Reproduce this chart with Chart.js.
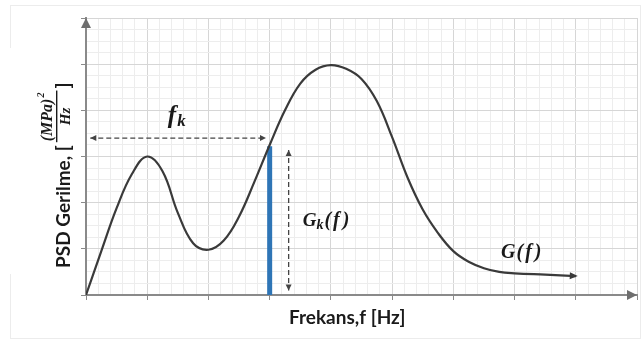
<!DOCTYPE html>
<html>
<head>
<meta charset="utf-8">
<script src="https://cdn.jsdelivr.net/npm/chart.js@4.4.1/dist/chart.umd.min.js"></script>
<style>
    html, body { margin: 0; padding: 0; background: #fff; }
    canvas { display: block; }
</style>
</head>
<body>
<canvas id="grafico" width="642" height="343"></canvas>
<script>
// espectro G(f)
const frecuencias = [0, 0.25, 0.5, 0.75, 1.0, 1.25, 1.5, 1.75, 2.0, 2.25, 2.5, 2.75, 3.0, 3.25, 3.5, 3.75, 4.0,
    4.25, 4.5, 4.75, 5.0, 5.25, 5.5, 5.75, 6.0, 6.25, 6.5, 6.75, 7.0, 7.5, 8.0]
const valoresPSD = [0, 0.95, 1.88, 2.62, 3.0, 2.68, 1.78, 1.12, 0.98, 1.18, 1.7, 2.45, 3.25, 4.0, 4.58, 4.88, 4.98,
    4.9, 4.68, 4.2, 3.42, 2.55, 1.85, 1.34, 0.95, 0.72, 0.58, 0.5, 0.47, 0.44, 0.41]

// franja k
const fk = 3.0
const gk = 3.22

// limites de los ejes
const xMax = 9
const yMax = 6

const serif = 'italic bold {s}px "Liberation Serif", "DejaVu Serif", serif'
const sans = 'bold {s}px Lato, "Open Sans", sans-serif'
const fuente = (plantilla, s) => plantilla.replace('{s}', s)

const esEntero = (v) => Math.abs(v - Math.round(v)) < 1e-6

function punta(ctx, x1, y1, x2, y2, largo, ancho) {
    const ang = Math.atan2(y2 - y1, x2 - x1)
    ctx.save()
    ctx.translate(x2, y2)
    ctx.rotate(ang)
    ctx.beginPath()
    ctx.moveTo(0, 0)
    ctx.lineTo(-largo, -ancho)
    ctx.lineTo(-largo, ancho)
    ctx.closePath()
    ctx.fill()
    ctx.restore()
}

function flechaDoble(ctx, x1, y1, x2, y2) {
    ctx.save()
    ctx.strokeStyle = '#444'
    ctx.fillStyle = '#444'
    ctx.lineWidth = 1.3
    ctx.setLineDash([5, 3])
    ctx.beginPath()
    ctx.moveTo(x1, y1)
    ctx.lineTo(x2, y2)
    ctx.stroke()
    ctx.setLineDash([])
    punta(ctx, x2, y2, x1, y1, 6, 3)
    punta(ctx, x1, y1, x2, y2, 6, 3)
    ctx.restore()
}

// texto con partes de distinta fuente (subindices)
function textoPartes(ctx, x, y, partes) {
    let cx = x
    for (const p of partes) {
        ctx.font = p.font
        ctx.fillText(p.t, cx, y + (p.dy || 0))
        cx += ctx.measureText(p.t).width + (p.gap || 0)
    }
}

const anotaciones = {
    id: 'anotaciones',
    beforeDraw(chart) {
        const ctx = chart.ctx
        ctx.save()
        ctx.fillStyle = '#fff'
        ctx.fillRect(0, 0, chart.width, chart.height)
        ctx.strokeStyle = '#ececec'
        ctx.lineWidth = 1
        ctx.strokeRect(10.5, 5.5, chart.width - 12, chart.height - 10)
        ctx.fillRect(8, 48, 5, 226)
        ctx.restore()
    },
    afterDraw(chart) {
        const ctx = chart.ctx
        const x = chart.scales.x
        const y = chart.scales.y
        const area = chart.chartArea

        ctx.save()
        // puntas de los ejes
        ctx.fillStyle = '#6e6e6e'
        punta(ctx, area.left, area.top + 20, area.left, area.top, 10, 5)
        punta(ctx, area.right - 20, area.bottom, area.right, area.bottom, 10, 5)

        // punta al final de la curva
        const n = frecuencias.length
        ctx.fillStyle = '#3a3a3a'
        punta(ctx,
            x.getPixelForValue(frecuencias[n - 2]), y.getPixelForValue(valoresPSD[n - 2]),
            x.getPixelForValue(frecuencias[n - 1]) + 2, y.getPixelForValue(valoresPSD[n - 1]),
            8, 3.5)

        // cota f_k
        const yCota = y.getPixelForValue(3.4)
        flechaDoble(ctx, x.getPixelForValue(0.07), yCota, x.getPixelForValue(fk - 0.06), yCota)

        // cota G_k(f)
        const xCota = x.getPixelForValue(fk + 0.31)
        flechaDoble(ctx, xCota, y.getPixelForValue(gk - 0.08), xCota, y.getPixelForValue(0.1))

        ctx.fillStyle = '#1a1a1a'
        ctx.textBaseline = 'alphabetic'
        ctx.textAlign = 'left'
        textoPartes(ctx, x.getPixelForValue(fk / 2) - 10, y.getPixelForValue(3.72), [
            { t: 'f', font: fuente(serif, 25), gap: 1 },
            { t: 'k', font: fuente(serif, 17), dy: 3 }
        ])
        textoPartes(ctx, x.getPixelForValue(fk + 0.54), y.getPixelForValue(1.49), [
            { t: 'G', font: fuente(serif, 19) },
            { t: 'k', font: fuente(serif, 14), dy: 3, gap: 1 },
            { t: '(', font: fuente(serif, 20), gap: 2 },
            { t: 'f', font: fuente(serif, 20), gap: 3 },
            { t: ')', font: fuente(serif, 20) }
        ])
        textoPartes(ctx, x.getPixelForValue(6.78), y.getPixelForValue(0.8), [
            { t: 'G', font: fuente(serif, 20), gap: 1 },
            { t: '(', font: fuente(serif, 20), gap: 2 },
            { t: 'f', font: fuente(serif, 20), gap: 3 },
            { t: ')', font: fuente(serif, 20) }
        ])

        // titulo eje x
        ctx.font = fuente(sans, 19)
        ctx.fillText('Frekans,f [Hz]', 289, 324)

        // titulo eje y con la fraccion (MPa)^2 / Hz
        ctx.translate(70, 268)
        ctx.rotate(-Math.PI / 2)
        ctx.font = fuente(sans, 19)
        const base = 'PSD Gerilme, ['
        ctx.fillText(base, 0, 0)
        const fx = ctx.measureText(base).width + 3
        ctx.font = fuente(serif, 16)
        const num = '(MPa)'
        const nw = ctx.measureText(num).width
        ctx.font = fuente(serif, 10)
        const sw = ctx.measureText('2').width
        const fw = nw + sw + 4
        ctx.font = fuente(serif, 16)
        ctx.fillText(num, fx + 1, -18)
        ctx.font = fuente(serif, 10)
        ctx.fillText('2', fx + 2 + nw, -26)
        ctx.fillRect(fx, -14, fw, 1.4)
        ctx.font = fuente(serif, 15)
        ctx.textAlign = 'center'
        ctx.fillText('Hz', fx + fw / 2, 0)
        ctx.textAlign = 'left'
        ctx.font = fuente(sans, 19)
        ctx.fillText(']', fx + fw + 2, 0)
        ctx.restore()
    }
}

const colorGrid = (ctx) => esEntero(ctx.tick.value) ? '#d6d6d6' : '#ededed'
const colorTick = (ctx) => esEntero(ctx.tick.value) ? '#8a8a8a' : 'rgba(0,0,0,0)'

new Chart(document.getElementById('grafico'), {
    type: 'line',
    data: {
        datasets: [
            {
                label: 'G(f)',
                data: frecuencias.map((f, i) => ({ x: f, y: valoresPSD[i] })),
                borderColor: '#3a3a3a',
                borderWidth: 2.2,
                pointRadius: 0,
                tension: 0.4,
                fill: false,
            },
            {
                label: 'Gk(f)',
                data: [{ x: fk, y: 0 }, { x: fk, y: gk }],
                borderColor: '#2e75b6',
                borderWidth: 5,
                pointRadius: 0,
                borderCapStyle: 'butt',
                fill: false,
            },
        ],
    },
    options: {
        responsive: false,
        animation: false,
        devicePixelRatio: 1,
        layout: { padding: { left: 81, right: 5, top: 18, bottom: 43 } },
        plugins: {
            legend: { display: false },
            tooltip: { enabled: false },
        },
        scales: {
            x: {
                type: 'linear',
                min: 0,
                max: xMax,
                ticks: { display: false, stepSize: 0.2 },
                grid: { color: colorGrid, tickColor: colorTick, tickLength: 5 },
                border: { color: '#8a8a8a', width: 2 },
            },
            y: {
                type: 'linear',
                min: 0,
                max: yMax,
                ticks: { display: false, stepSize: 0.25 },
                grid: { color: colorGrid, tickColor: colorTick, tickLength: 5 },
                border: { color: '#8a8a8a', width: 2 },
            },
        },
    },
    plugins: [anotaciones],
});
</script>
</body>
</html>
